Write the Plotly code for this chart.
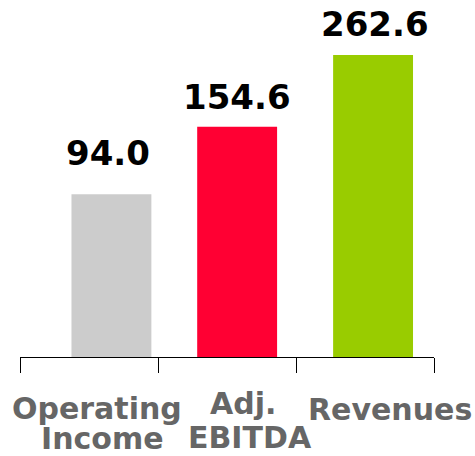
import math
import plotly.graph_objects as go

categories = ["Operating Income", "Adj. EBITDA", "Revenues"]
category_lines = [["Operating", "Income"], ["Adj.", "EBITDA"], ["Revenues"]]
values = [94.0, 154.6, 262.6]
colors = ["#cccccc", "#ff0033", "#99cc00"]

FONT = "DejaVu Sans"

# style: per-bar horizontal offset (category units) and label nudges (px)
bar_offsets = [-0.127, -0.216, -0.231]
value_xshift = [18.5, 10, 9.5]
value_yshift = [40.7, 30.3, 30.6]
line_xshift = [[8, 13], [16, 22.5], [25]]
line_yshift = [[-51.5, -81], [-46, -80.5], [-52]]

fig = go.Figure(go.Bar(
    x=categories,
    y=values,
    marker=dict(color=colors, line=dict(width=0)),
    width=0.579,
    offset=bar_offsets,
    hoverinfo="skip",
))

# value labels
for cat, v, xs, ys in zip(categories, values, value_xshift, value_yshift):
    fig.add_annotation(
        x=cat, y=math.log10(v), xref="x", yref="y",
        text=f"<b>{v:.1f}</b>", showarrow=False,
        xshift=xs, yshift=ys, xanchor="center", yanchor="middle",
        font=dict(family=FONT, size=34, color="#000000"),
    )

# category labels (one annotation per line)
for cat, lines, xss, yss in zip(categories, category_lines, line_xshift, line_yshift):
    for ln, xs, ys in zip(lines, xss, yss):
        fig.add_annotation(
            x=cat, y=0, xref="x", yref="paper",
            text=f"<b>{ln}</b>", showarrow=False,
            xshift=xs, yshift=ys, xanchor="center", yanchor="middle",
            font=dict(family=FONT, size=30, color="#666666"),
        )

fig.update_layout(
    width=475, height=456,
    margin=dict(l=20, r=41, t=0, b=99),
    paper_bgcolor="white", plot_bgcolor="white",
    showlegend=False,
    xaxis=dict(
        type="category",
        range=[-0.5, 2.5],
        showline=True, linecolor="#000000", linewidth=1,
        ticks="outside", ticklen=15, tickcolor="#000000", tickwidth=1,
        tickson="boundaries",
        showticklabels=False,
        showgrid=False, zeroline=False,
    ),
    yaxis=dict(
        type="log",
        range=[1.4507, 2.596],
        visible=False,
        showgrid=False, zeroline=False,
    ),
)

fig.write_html("out.html", config={"displayModeBar": False},
               post_script="document.body.style.margin='0';")
